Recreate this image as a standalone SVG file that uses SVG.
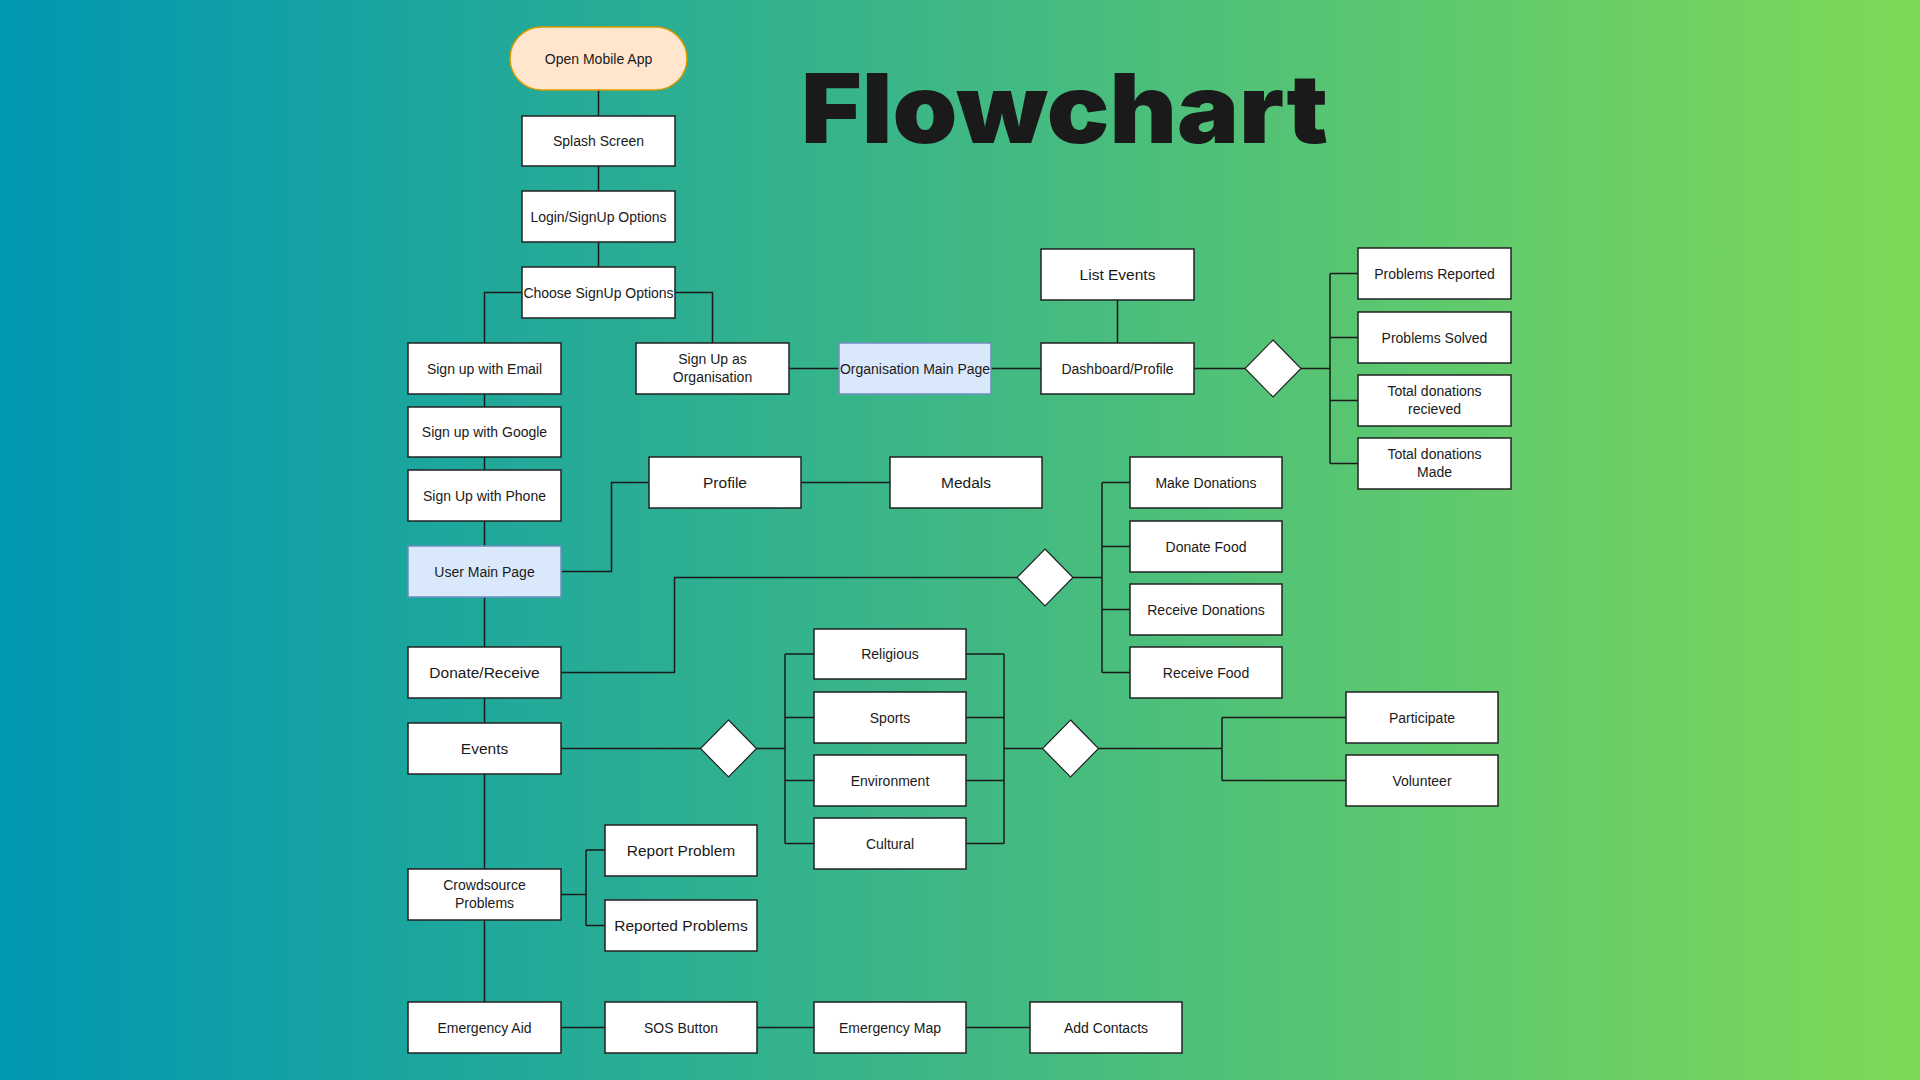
<svg xmlns="http://www.w3.org/2000/svg" width="1920" height="1080" viewBox="0 0 1920 1080">
<defs>
<linearGradient id="bg" x1="0" y1="0" x2="1" y2="0">
<stop offset="0" stop-color="#0097b2"/>
<stop offset="1" stop-color="#7ed957"/>
</linearGradient>
<style>
.box{fill:#ffffff;stroke:#222222;stroke-width:1.5}
.blue{fill:#dae8fc;stroke:#6c8ebf;stroke-width:1.5}
.start{fill:#ffe6cc;stroke:#d79b00;stroke-width:1.5}
.dia{fill:#ffffff;stroke:#222222;stroke-width:1.2}
.t{font-family:"Liberation Sans",Arial,sans-serif;font-size:14px;fill:#1a1a1a;text-anchor:middle}
.tl{font-family:"Liberation Sans",Arial,sans-serif;font-size:15.5px;fill:#1a1a1a;text-anchor:middle}
.c{fill:none;stroke:#1a1a1a;stroke-width:1.5}
</style>
</defs>
<rect x="0" y="0" width="1920" height="1080" fill="url(#bg)"/>
<text x="801" y="143" font-family="Inter,'Liberation Sans',sans-serif" font-weight="900" font-size="96" textLength="527" lengthAdjust="spacingAndGlyphs" fill="#1a1a1a">Flowchart</text>

<g id="connectors">
<path class="c" d="M598.5,90V116M598.5,166V191M598.5,242V267"/>
<path class="c" d="M522,292.5H484.5V343M675,292.5H712.5V343"/>
<path class="c" d="M484.5,394V1002"/>
<path class="c" d="M789,368.5H839M991,368.5H1041M1117.5,300V343M1194,368.5H1245"/>
<path class="c" d="M1301,368.5H1330M1330,273.5V463.5M1330,273.5H1358M1330,337.5H1358M1330,400.5H1358M1330,463.5H1358"/>
<path class="c" d="M561,571.5H611.5V482.5H649M801,482.5H890"/>
<path class="c" d="M561,672.5H674.5V577.5H1017"/>
<path class="c" d="M1073,577.5H1102M1102,482.5V672.5M1102,482.5H1130M1102,546.5H1130M1102,609.5H1130M1102,672.5H1130"/>
<path class="c" d="M561,748.5H700.5M756.5,748.5H785M785,654V843.5M785,654H814M785,717.5H814M785,780.5H814M785,843.5H814"/>
<path class="c" d="M966,654H1004M966,717.5H1004M966,780.5H1004M966,843.5H1004M1004,654V843.5M1004,748.5H1042.5"/>
<path class="c" d="M1098.5,748.5H1222M1222,717.5V780.5M1222,717.5H1346M1222,780.5H1346"/>
<path class="c" d="M561,894.5H586M586,850V925.5M586,850H605M586,925.5H605"/>
<path class="c" d="M561,1027.5H605M757,1027.5H814M966,1027.5H1030"/>
</g>

<g id="open-mobile-app"><rect class="start" x="510" y="27" width="177" height="63" rx="31.5"/><text class="t" x="598.5" y="63.5">Open Mobile App</text></g>
<g id="splash-screen"><rect class="box" x="522" y="116" width="153" height="50"/><text class="t" x="598.5" y="146">Splash Screen</text></g>
<g id="login-signup"><rect class="box" x="522" y="191" width="153" height="51"/><text class="t" x="598.5" y="221.5">Login/SignUp Options</text></g>
<g id="choose-signup"><rect class="box" x="522" y="267" width="153" height="51"/><text class="t" x="598.5" y="297.5">Choose SignUp Options</text></g>
<g id="signup-email"><rect class="box" x="408" y="343" width="153" height="51"/><text class="t" x="484.5" y="373.5">Sign up with Email</text></g>
<g id="signup-google"><rect class="box" x="408" y="407" width="153" height="50"/><text class="t" x="484.5" y="437">Sign up with Google</text></g>
<g id="signup-phone"><rect class="box" x="408" y="470" width="153" height="51"/><text class="t" x="484.5" y="500.5">Sign Up with Phone</text></g>
<g id="user-main-page"><rect class="blue" x="408" y="546" width="153" height="51"/><text class="t" x="484.5" y="576.5">User Main Page</text></g>
<g id="donate-receive"><rect class="box" x="408" y="647" width="153" height="51"/><text class="tl" x="484.5" y="678">Donate/Receive</text></g>
<g id="events"><rect class="box" x="408" y="723" width="153" height="51"/><text class="tl" x="484.5" y="754">Events</text></g>
<g id="crowdsource-problems"><rect class="box" x="408" y="869" width="153" height="51"/><text class="t" x="484.5" y="890">Crowdsource</text><text class="t" x="484.5" y="908">Problems</text></g>
<g id="emergency-aid"><rect class="box" x="408" y="1002" width="153" height="51"/><text class="t" x="484.5" y="1032.5">Emergency Aid</text></g>

<g id="signup-organisation"><rect class="box" x="636" y="343" width="153" height="51"/><text class="t" x="712.5" y="364">Sign Up as</text><text class="t" x="712.5" y="382">Organisation</text></g>
<g id="organisation-main-page"><rect class="blue" x="839" y="343" width="152" height="51"/><text class="t" x="915" y="373.5">Organisation Main Page</text></g>
<g id="list-events"><rect class="box" x="1041" y="249" width="153" height="51"/><text class="tl" x="1117.5" y="280">List Events</text></g>
<g id="dashboard-profile"><rect class="box" x="1041" y="343" width="153" height="51"/><text class="t" x="1117.5" y="373.5">Dashboard/Profile</text></g>
<g id="decision-dashboard"><polygon class="dia" points="1273,340 1301,368.5 1273,397 1245,368.5"/></g>
<g id="problems-reported"><rect class="box" x="1358" y="248" width="153" height="51"/><text class="t" x="1434.5" y="278.5">Problems Reported</text></g>
<g id="problems-solved"><rect class="box" x="1358" y="312" width="153" height="51"/><text class="t" x="1434.5" y="342.5">Problems Solved</text></g>
<g id="total-donations-received"><rect class="box" x="1358" y="375" width="153" height="51"/><text class="t" x="1434.5" y="396">Total donations</text><text class="t" x="1434.5" y="414">recieved</text></g>
<g id="total-donations-made"><rect class="box" x="1358" y="438" width="153" height="51"/><text class="t" x="1434.5" y="459">Total donations</text><text class="t" x="1434.5" y="477">Made</text></g>

<g id="profile"><rect class="box" x="649" y="457" width="152" height="51"/><text class="tl" x="725" y="488">Profile</text></g>
<g id="medals"><rect class="box" x="890" y="457" width="152" height="51"/><text class="tl" x="966" y="488">Medals</text></g>

<g id="decision-donate"><polygon class="dia" points="1045,549 1073,577.5 1045,606 1017,577.5"/></g>
<g id="make-donations"><rect class="box" x="1130" y="457" width="152" height="51"/><text class="t" x="1206" y="487.5">Make Donations</text></g>
<g id="donate-food"><rect class="box" x="1130" y="521" width="152" height="51"/><text class="t" x="1206" y="551.5">Donate Food</text></g>
<g id="receive-donations"><rect class="box" x="1130" y="584" width="152" height="51"/><text class="t" x="1206" y="614.5">Receive Donations</text></g>
<g id="receive-food"><rect class="box" x="1130" y="647" width="152" height="51"/><text class="t" x="1206" y="677.5">Receive Food</text></g>

<g id="decision-events"><polygon class="dia" points="728.5,720 756.5,748.5 728.5,777 700.5,748.5"/></g>
<g id="religious"><rect class="box" x="814" y="629" width="152" height="50"/><text class="t" x="890" y="659">Religious</text></g>
<g id="sports"><rect class="box" x="814" y="692" width="152" height="51"/><text class="t" x="890" y="722.5">Sports</text></g>
<g id="environment"><rect class="box" x="814" y="755" width="152" height="51"/><text class="t" x="890" y="785.5">Environment</text></g>
<g id="cultural"><rect class="box" x="814" y="818" width="152" height="51"/><text class="t" x="890" y="848.5">Cultural</text></g>
<g id="decision-category"><polygon class="dia" points="1070.5,720 1098.5,748.5 1070.5,777 1042.5,748.5"/></g>
<g id="participate"><rect class="box" x="1346" y="692" width="152" height="51"/><text class="t" x="1422" y="722.5">Participate</text></g>
<g id="volunteer"><rect class="box" x="1346" y="755" width="152" height="51"/><text class="t" x="1422" y="785.5">Volunteer</text></g>

<g id="report-problem"><rect class="box" x="605" y="825" width="152" height="51"/><text class="tl" x="681" y="856">Report Problem</text></g>
<g id="reported-problems"><rect class="box" x="605" y="900" width="152" height="51"/><text class="tl" x="681" y="931">Reported Problems</text></g>

<g id="sos-button"><rect class="box" x="605" y="1002" width="152" height="51"/><text class="t" x="681" y="1032.5">SOS Button</text></g>
<g id="emergency-map"><rect class="box" x="814" y="1002" width="152" height="51"/><text class="t" x="890" y="1032.5">Emergency Map</text></g>
<g id="add-contacts"><rect class="box" x="1030" y="1002" width="152" height="51"/><text class="t" x="1106" y="1032.5">Add Contacts</text></g>
</svg>
